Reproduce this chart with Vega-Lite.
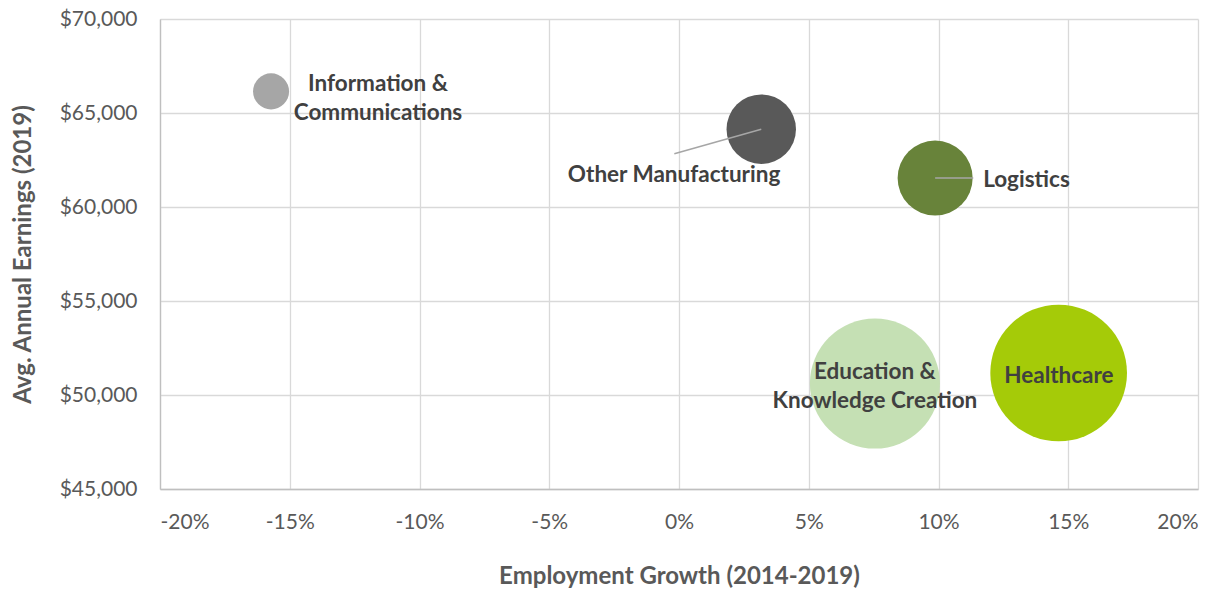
{
  "$schema": "https://vega.github.io/schema/vega-lite/v6.json",
  "width": 1038,
  "height": 470,
  "autosize": {"type": "none"},
  "padding": {"left": 160, "top": 19, "right": 33, "bottom": 102},
  "background": "white",
  "config": {
    "view": {"stroke": null},
    "font": "Lato",
    "axis": {
      "labelFont": "Lato",
      "labelFontSize": 21,
      "labelColor": "#595959",
      "titleFont": "Lato",
      "titleFontSize": 24,
      "titleFontWeight": "bold",
      "titleColor": "#595959",
      "gridColor": "#d9d9d9",
      "gridWidth": 1.3,
      "domainColor": "#bfbfbf",
      "domainWidth": 1.3,
      "ticks": false
    }
  },
  "datasets": {
    "industries": [
      {"name": "Information & Communications", "label": "Information &\nCommunications", "growth": -0.1572, "earnings": 66150, "employment": 3240, "label_x": -0.116, "label_y": 66569},
      {"name": "Other Manufacturing", "label": "Other Manufacturing", "growth": 0.0317, "earnings": 64140, "employment": 12040, "label_x": -0.0019, "label_y": 61676},
      {"name": "Logistics", "label": "Logistics", "growth": 0.0987, "earnings": 61540, "employment": 14060, "label_x": 0.1172, "label_y": 61410},
      {"name": "Education & Knowledge Creation", "label": "Education &\nKnowledge Creation", "growth": 0.0755, "earnings": 50610, "employment": 42250, "label_x": 0.0755, "label_y": 51250},
      {"name": "Healthcare", "label": "Healthcare", "growth": 0.1463, "earnings": 51170, "employment": 46650, "label_x": 0.1464, "label_y": 51011}
    ],
    "leaders": [
      {"name": "Other Manufacturing", "x1": -0.0018, "y1": 62830, "x2": 0.0317, "y2": 64140},
      {"name": "Logistics", "x1": 0.0987, "y1": 61540, "x2": 0.1134, "y2": 61540}
    ]
  },
  "layer": [
    {
      "data": {"name": "industries"},
      "mark": {"type": "circle", "opacity": 1, "strokeWidth": 0},
      "encoding": {
        "x": {
          "field": "growth", "type": "quantitative",
          "scale": {"domain": [-0.2, 0.2], "nice": false, "zero": false},
          "axis": {
            "values": [-0.2, -0.15, -0.1, -0.05, 0, 0.05, 0.1, 0.15, 0.2],
            "format": ".0%",
            "labelExpr": "replace(datum.label, '\u2212', '-')",
            "title": "Employment Growth (2014-2019)",
            "labelPadding": 22,
            "titleX": 519,
            "titleY": 87,
            "titleBaseline": "middle",
            "titleAlign": "center"
          }
        },
        "y": {
          "field": "earnings", "type": "quantitative",
          "scale": {"domain": [45000, 70000], "nice": false, "zero": false},
          "axis": {
            "values": [45000, 50000, 55000, 60000, 65000, 70000],
            "format": "$,.0f",
            "title": "Avg. Annual Earnings (2019)",
            "labelPadding": 23,
            "titleX": -137,
            "titleY": 235,
            "titleAngle": -90,
            "titleBaseline": "middle",
            "titleAlign": "center"
          }
        },
        "size": {
          "field": "employment", "type": "quantitative",
          "scale": {"type": "linear", "domain": [0, 46650], "range": [0, 18687], "zero": true},
          "legend": null
        },
        "color": {
          "field": "name", "type": "nominal",
          "scale": {
            "domain": ["Information & Communications", "Other Manufacturing", "Logistics", "Education & Knowledge Creation", "Healthcare"],
            "range": ["#a6a6a6", "#595959", "#68833a", "#c5e0b4", "#a5cb08"]
          },
          "legend": null
        }
      }
    },
    {
      "data": {"name": "leaders"},
      "mark": {"type": "rule", "color": "#a6a6a6", "strokeWidth": 1.5},
      "encoding": {
        "x": {"field": "x1", "type": "quantitative"},
        "y": {"field": "y1", "type": "quantitative"},
        "x2": {"field": "x2"},
        "y2": {"field": "y2"}
      }
    },
    {
      "data": {"name": "industries"},
      "transform": [{"filter": "datum.name !== 'Logistics'"}],
      "mark": {"type": "text", "font": "Lato", "fontSize": 22.5, "fontWeight": "bold", "color": "#404040", "align": "center", "baseline": "middle", "lineBreak": "\n", "lineHeight": 29},
      "encoding": {
        "x": {"field": "label_x", "type": "quantitative"},
        "y": {"field": "label_y", "type": "quantitative"},
        "text": {"field": "label"}
      }
    },
    {
      "data": {"name": "industries"},
      "transform": [{"filter": "datum.name === 'Logistics'"}],
      "mark": {"type": "text", "font": "Lato", "fontSize": 22.5, "fontWeight": "bold", "color": "#404040", "align": "left", "baseline": "middle", "lineBreak": "\n", "lineHeight": 29},
      "encoding": {
        "x": {"field": "label_x", "type": "quantitative"},
        "y": {"field": "label_y", "type": "quantitative"},
        "text": {"field": "label"}
      }
    }
  ]
}
